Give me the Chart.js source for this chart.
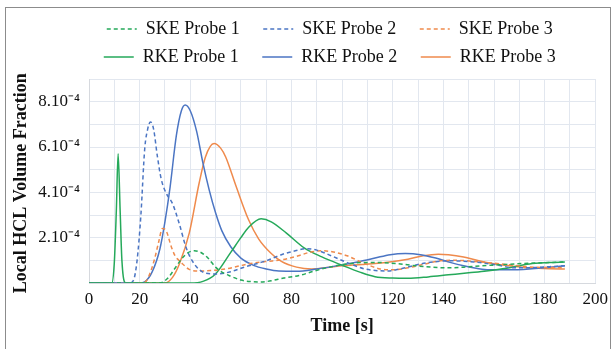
<!DOCTYPE html>
<html>
<head>
<meta charset="utf-8">
<script src="https://cdn.jsdelivr.net/npm/chart.js@4"></script>
<style>
  html, body { margin: 0; padding: 0; background: #fff; }
  #wrap { position: relative; width: 614px; height: 349px; overflow: hidden; }
  #frame { position: absolute; left: 5px; top: 7px; width: 606px; height: 360px; border: 1.5px solid #8c8c8c; box-sizing: border-box; }
  canvas { position: absolute; left: 0; top: 0; }
</style>
</head>
<body>
<div id="wrap">
  <div id="frame"></div>
  <canvas id="HclChart" width="614" height="349"></canvas>
</div>
<script>
// values are in units of 1e-4 (volume fraction)
const ske1Time = [0, 28, 31, 34, 36.5, 39, 41.6, 44, 47, 50, 53, 56, 60, 64, 68, 72, 77, 83, 89, 95, 102, 108, 115, 122, 129, 135, 142, 148, 155, 162, 168, 176, 182, 188];
const ske1Vals = [0, 0, 0.2, 0.65, 1.05, 1.33, 1.42, 1.36, 1.1, 0.7, 0.45, 0.3, 0.13, 0.06, 0.04, 0.1, 0.22, 0.33, 0.53, 0.7, 0.84, 0.9, 0.9, 0.85, 0.76, 0.7, 0.67, 0.7, 0.76, 0.8, 0.84, 0.88, 0.9, 0.93];

const ske2Time = [0, 16, 17.5, 19, 20.5, 22, 23.2, 24.3, 25.5, 27, 28.5, 30.5, 33, 35.7, 38.4, 41.6, 46, 51, 56, 62, 70, 76, 81.5, 85.5, 90, 95.7, 102, 109, 118, 124, 131, 136, 141.6, 148, 154.5, 161, 168, 176, 182, 188];
const ske2Vals = [0, 0, 0.1, 1.0, 3.0, 5.9, 6.8, 7.1, 6.8, 5.6, 4.6, 3.96, 3.5, 2.6, 1.55, 0.84, 0.44, 0.4, 0.5, 0.72, 0.98, 1.25, 1.42, 1.51, 1.45, 1.2, 0.9, 0.62, 0.53, 0.65, 0.84, 0.93, 0.98, 0.96, 0.9, 0.8, 0.67, 0.68, 0.72, 0.76];

const ske3Time = [0, 21, 22.7, 24.5, 26, 27.5, 29, 30.5, 32.5, 34, 35.7, 37, 39.6, 43.5, 48, 54, 63, 70, 76, 82.7, 87, 91.8, 96, 102, 108, 115, 120, 126, 132, 139, 145, 154.5, 162, 168, 174, 182, 188];
const ske3Vals = [0, 0, 0.1, 0.55, 1.1, 1.8, 2.4, 2.3, 1.6, 1.2, 0.98, 0.84, 0.6, 0.53, 0.55, 0.62, 0.84, 0.95, 1.02, 1.2, 1.35, 1.42, 1.38, 1.2, 0.9, 0.62, 0.58, 0.67, 0.82, 0.98, 1.0, 0.93, 0.85, 0.78, 0.71, 0.68, 0.67];

const rke1Time = [0, 9, 10, 10.8, 11.5, 12.3, 13, 14.5, 40, 45, 50, 56, 60, 63, 68, 72, 78, 85, 92, 100, 107, 113, 120, 126, 134, 142, 150, 157, 165, 174, 182, 188];
const rke1Vals = [0, 0, 0.9, 3.2, 5.7, 3.2, 1.0, 0, 0, 0.07, 0.4, 1.35, 2.0, 2.45, 2.83, 2.7, 2.2, 1.55, 1.15, 0.78, 0.48, 0.28, 0.22, 0.21, 0.27, 0.36, 0.45, 0.53, 0.65, 0.84, 0.9, 0.93];

const rke2Time = [0, 20, 22, 25, 28, 30, 32, 34.5, 36.5, 38, 40, 42.5, 45, 47.5, 50, 52.5, 56, 60, 65, 70, 75, 82, 90, 100, 107, 113, 119, 125, 131, 137, 143, 148, 153, 158, 166, 174, 182, 188];
const rke2Vals = [0, 0, 0.05, 0.5, 1.5, 2.7, 4.2, 6.5, 7.6, 7.85, 7.6, 6.7, 5.3, 4.1, 3.1, 2.3, 1.6, 1.1, 0.78, 0.62, 0.53, 0.52, 0.62, 0.8, 0.95, 1.1, 1.25, 1.3, 1.25, 1.1, 0.9, 0.76, 0.65, 0.58, 0.58, 0.62, 0.7, 0.76];

const rke3Time = [0, 30, 33, 35.7, 39.6, 43.5, 46, 49.4, 52, 54, 58, 63, 67, 72, 76, 82, 88, 94, 100, 108, 118, 126, 132, 138, 142, 148, 154, 160, 167, 174, 182, 188];
const rke3Vals = [0, 0, 0.25, 0.84, 2.2, 4.4, 5.56, 6.15, 5.95, 5.56, 4.3, 2.8, 1.95, 1.3, 0.95, 0.7, 0.62, 0.68, 0.76, 0.82, 0.92, 1.05, 1.2, 1.27, 1.25, 1.15, 0.98, 0.85, 0.75, 0.67, 0.63, 0.62];

const seriesNames = ['SKE Probe 1', 'SKE Probe 2', 'SKE Probe 3', 'RKE Probe 1', 'RKE Probe 2', 'RKE Probe 3'];
const xTickLabels = ['0', '20', '40', '60', '80', '100', '120', '140', '160', '180', '200'];
const yTickLabels = ['2.10\u207B\u2074', '4.10\u207B\u2074', '6.10\u207B\u2074', '8.10\u207B\u2074'];

const green = '#25a95a';
const blue = '#4b75c3';
const orange = '#ef8a4c';
const serif = '"Liberation Serif", "Times New Roman", serif';

function toPoints(times, vals) {
  return times.map((t, i) => ({ x: t, y: vals[i] }));
}

function makeSet(label, times, vals, color, dashed) {
  return {
    label: label,
    data: toPoints(times, vals),
    borderColor: color,
    backgroundColor: color,
    borderWidth: 1.5,
    borderDash: dashed ? [4, 3] : [],
    pointRadius: 0,
    tension: 0.4,
    cubicInterpolationMode: 'monotone',
    fill: false,
  };
}

// nudge the legend the way the original is placed
const legendShift = {
  id: 'legendShift',
  afterLayout(chart) {
    const lg = chart.legend;
    lg.left += 37; lg.right += 37;
    lg.top -= 3; lg.bottom -= 3;
  }
};

const ctx = document.getElementById('HclChart').getContext('2d');
new Chart(ctx, {
  type: 'line',
  data: {
    datasets: [
      makeSet(seriesNames[0], ske1Time, ske1Vals, green, true),
      makeSet(seriesNames[1], ske2Time, ske2Vals, blue, true),
      makeSet(seriesNames[2], ske3Time, ske3Vals, orange, true),
      makeSet(seriesNames[3], rke1Time, rke1Vals, green, false),
      makeSet(seriesNames[4], rke2Time, rke2Vals, blue, false),
      makeSet(seriesNames[5], rke3Time, rke3Vals, orange, false),
    ],
  },
  options: {
    responsive: false,
    animation: false,
    layout: { padding: { left: 0, right: 15, top: 13, bottom: 0 } },
    scales: {
      x: {
        type: 'linear',
        min: 0,
        max: 200,
        afterFit: (scale) => { scale.height = 66; },
        ticks: {
          stepSize: 10,
          autoSkip: false,
          maxRotation: 0,
          padding: 6,
          color: '#111',
          font: { family: serif, size: 17 },
          callback: (v) => (v % 20 === 0 ? xTickLabels[v / 20] : ''),
        },
        grid: { color: '#e2e7ef', drawTicks: false },
        border: { color: '#d6d9de' },
        title: {
          display: true,
          text: 'Time [s]',
          color: '#111',
          font: { family: serif, size: 18, weight: 'bold' },
          padding: { top: 0, bottom: 12 },
        },
      },
      y: {
        min: 0,
        max: 9,
        afterFit: (scale) => { scale.width = 89; },
        ticks: {
          stepSize: 1,
          autoSkip: false,
          padding: 9,
          color: '#111',
          font: { family: serif, size: 17 },
          callback: (v) => (v > 0 && v % 2 === 0 ? yTickLabels[v / 2 - 1] : ''),
        },
        grid: { color: '#e2e7ef', drawTicks: false },
        border: { color: '#d6d9de' },
        title: {
          display: true,
          text: 'Local HCL Volume Fraction ',
          color: '#111',
          font: { family: serif, size: 18, weight: 'bold' },
          padding: { top: 11, bottom: 0 },
        },
      },
    },
    plugins: {
      legend: {
        display: true,
        position: 'top',
        labels: {
          usePointStyle: true,
          pointStyle: 'line',
          pointStyleWidth: 30,
          padding: 10,
          color: '#111',
          font: { family: serif, size: 18 },
          generateLabels: (chart) => {
            const items = Chart.defaults.plugins.legend.labels.generateLabels(chart);
            items.forEach((it) => {
              const ds = chart.data.datasets[it.datasetIndex];
              it.text = it.text + '   ';
              it.lineWidth = 1.5;
              it.lineDash = ds.borderDash;
              it.strokeStyle = ds.borderColor;
            });
            return items;
          },
        },
      },
      tooltip: { enabled: false },
    },
  },
  plugins: [legendShift],
});
</script>
</body>
</html>
